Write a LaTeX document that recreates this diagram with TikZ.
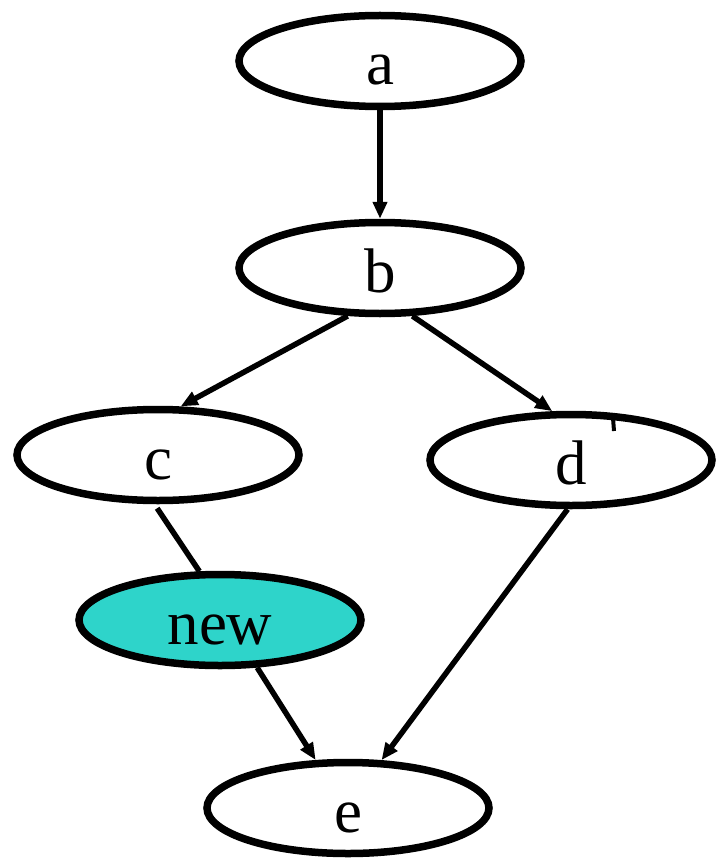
\documentclass[tikz,border=0pt]{standalone}
\usepackage{fontspec}
\setmainfont{Liberation Serif}
\usetikzlibrary{shapes.geometric,arrows.meta}
\definecolor{turq}{HTML}{2ED4CA}
\tikzset{
  nd/.style={ellipse, draw=black, line width=7.5pt, fill=white, inner sep=0pt,
    minimum width=282pt, minimum height=91pt, text height=48pt, text depth=0pt,
    font=\fontsize{63}{63}\selectfont},
  edge/.style={line width=5.5pt, -{Triangle[length=17pt,width=14pt]}},
  plain/.style={line width=5.5pt}
}
\begin{document}
\begin{tikzpicture}[x=1pt,y=-1pt]
\useasboundingbox (0,0) rectangle (718,861);
\node[nd] (a) at (380,61) {a};
\node[nd] (b) at (380,268) {b};
\node[nd] (c) at (158,455) {c};
\node[nd] (d) at (571,460) {d};
\node[nd, fill=turq] (n) at (220,620) {new};
\node[nd] (e) at (348,808) {e};
\draw[edge] (a.south) -- (b.north);
\draw[edge] (b.236) -- (c.65);
\draw[edge] (b.304) -- (d.111);
\draw[plain] ([yshift=-4pt]c.269) -- (n.113);
\draw[edge] (n.308) -- (e.124);
\draw[edge] (d.266) -- (e.55);
\coordinate (t1) at (613,418);
\coordinate (t2) at (614,431);
\draw[line width=4pt] (t1) -- (t2);
\end{tikzpicture}
\end{document}
